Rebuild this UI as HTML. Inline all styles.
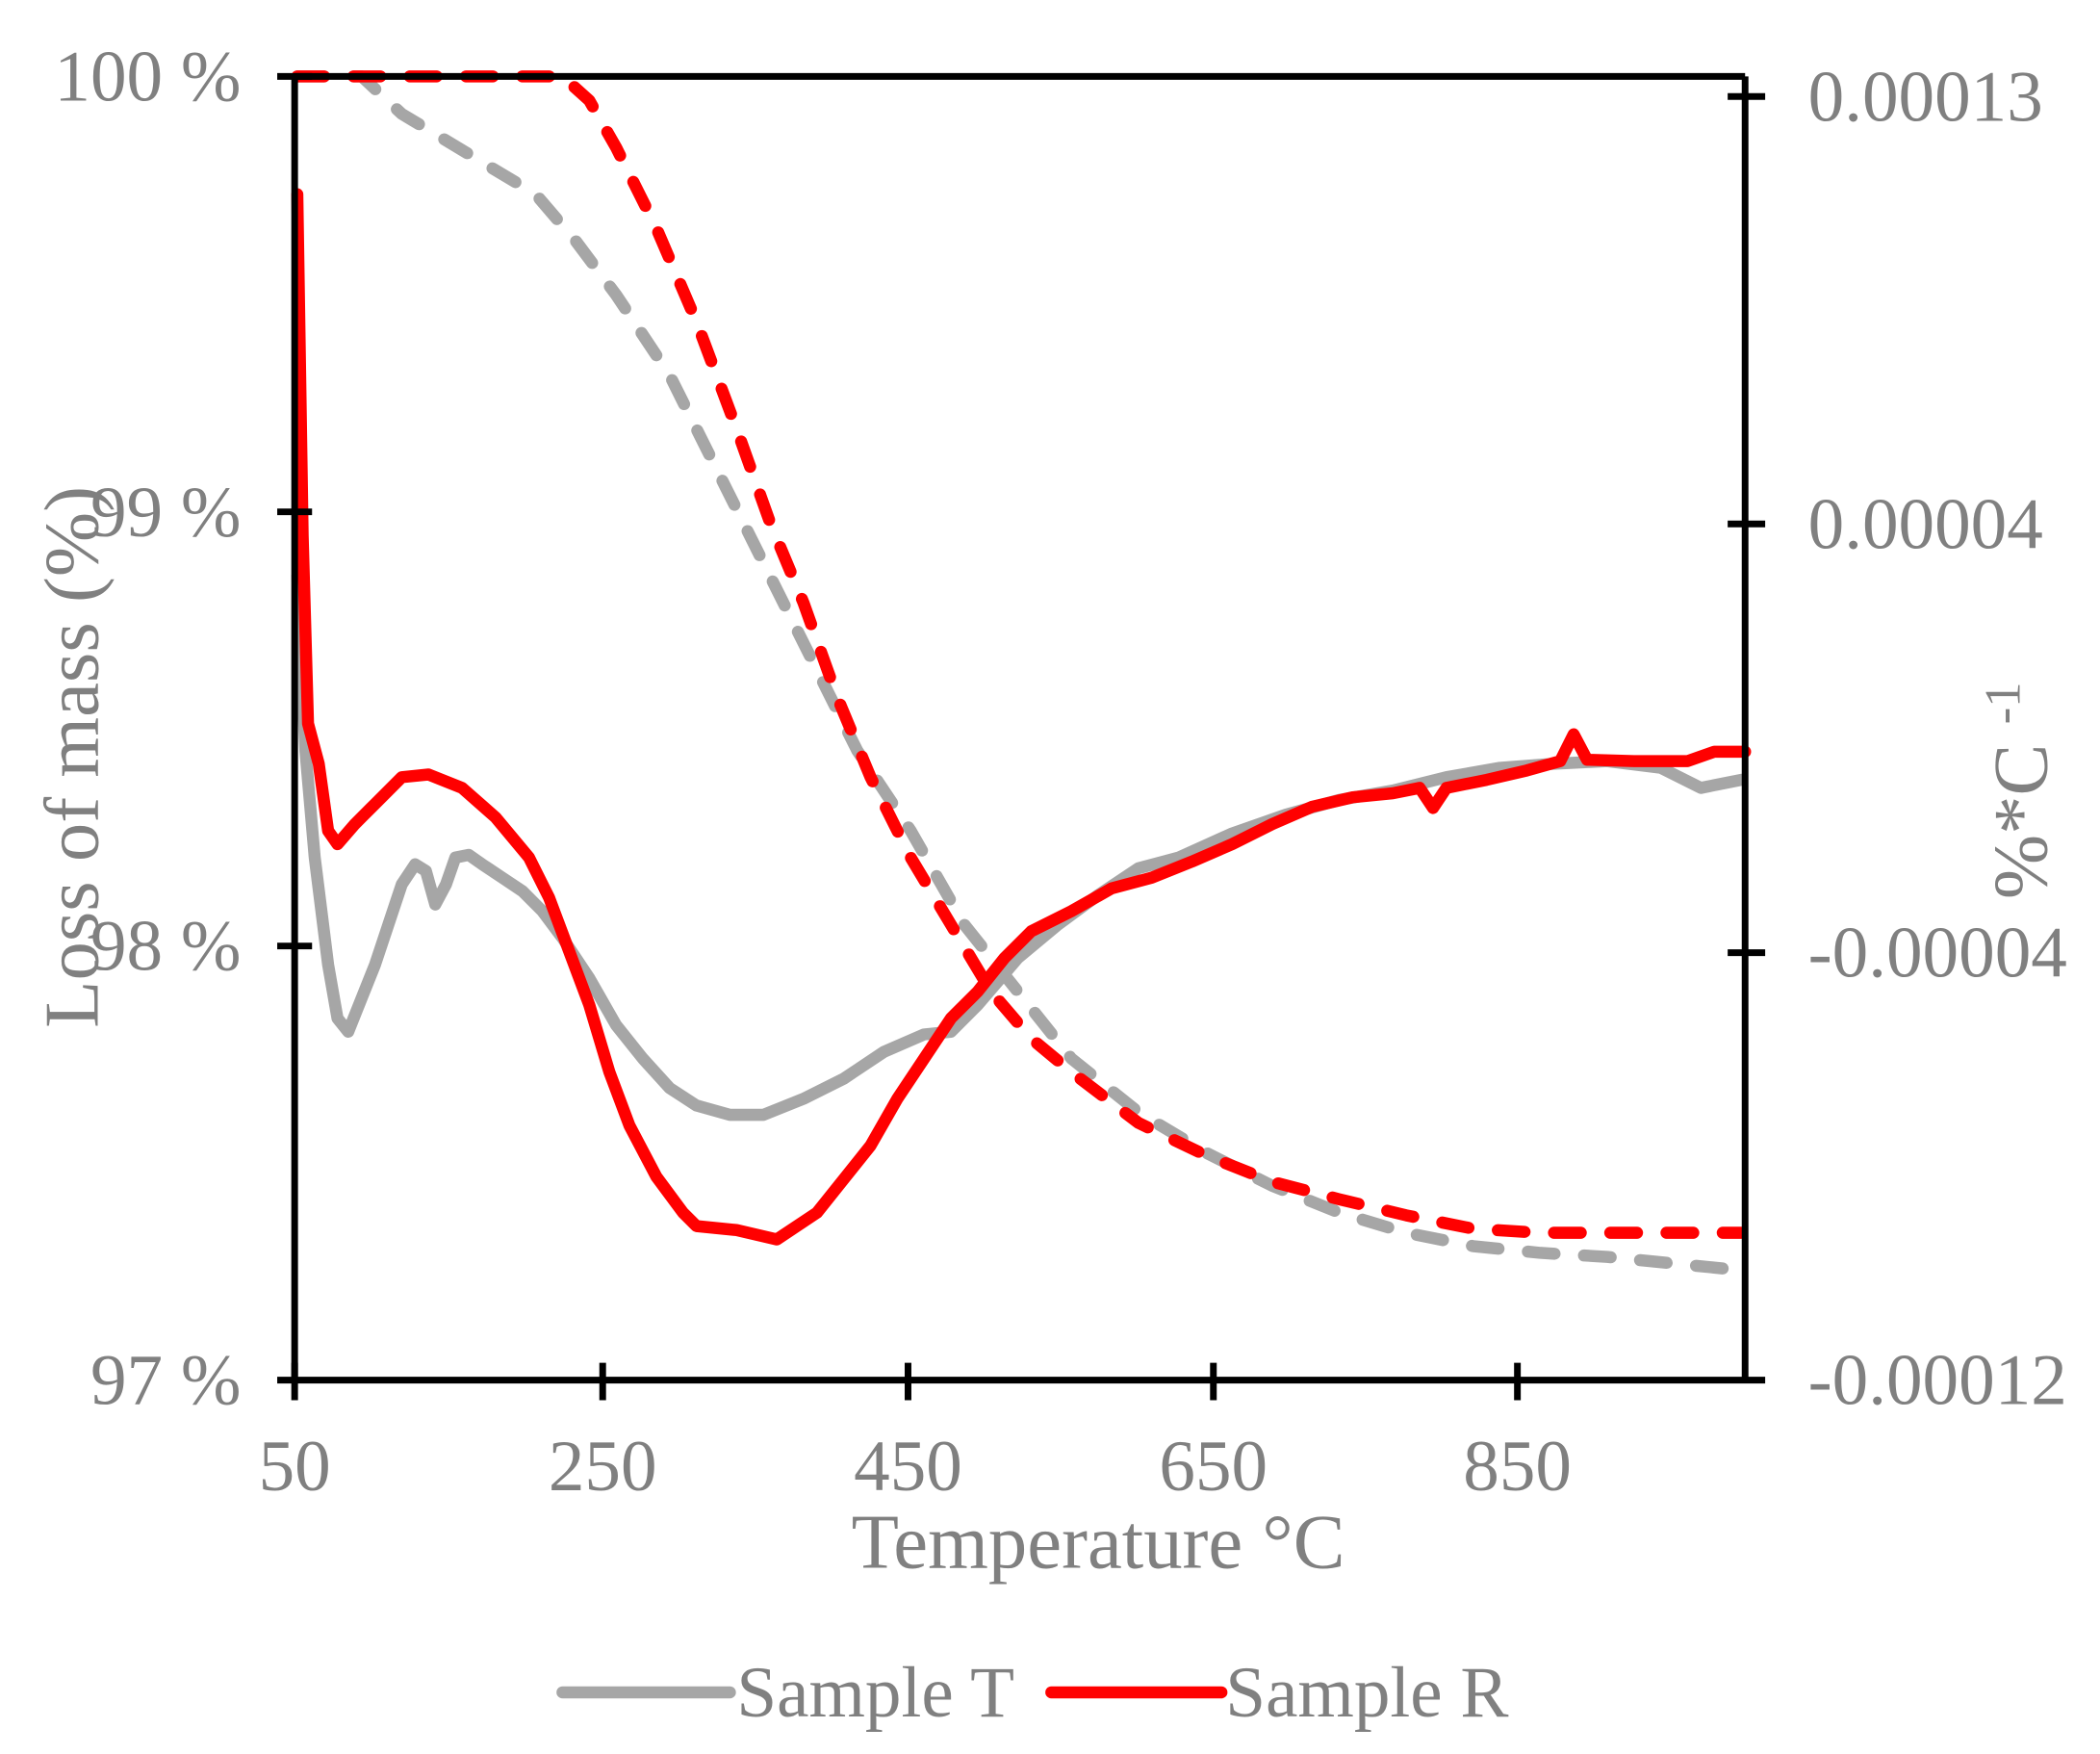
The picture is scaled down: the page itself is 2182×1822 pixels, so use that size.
<!DOCTYPE html>
<html><head><meta charset="utf-8"><style>html,body{margin:0;padding:0;background:#fff}svg{display:block}</style></head>
<body>
<svg width="2182" height="1822" viewBox="0 0 1568 1309" preserveAspectRatio="none" xmlns="http://www.w3.org/2000/svg" font-family="Liberation Serif, serif" fill="#808080">
<g fill="none" stroke-linecap="round" stroke-linejoin="round" stroke-width="9">
<polyline stroke="#a6a6a6" stroke-dasharray="20,22" points="222,57 270,57 300,85 350,115 400,145 430,180 460,220 500,280 540,360 580,440 610,500 640,560 680,620 720,690 760,740 800,790 850,830 900,860 950,885 1000,905 1050,920 1100,930 1150,935 1200,938 1290,947"/>
<polyline stroke="#ff0000" stroke-dasharray="20,22" points="222,57 420,57 440,75 460,110 490,170 520,240 550,320 575,390 600,450 625,520 650,580 680,640 710,690 740,740 770,775 800,800 850,838 900,862 950,882 1000,895 1050,907 1100,917 1150,920 1200,920 1300,920"/>
<polyline stroke="#a6a6a6" points="222,430 228,560 235,640 245,720 252,760 260,770 268,750 280,720 290,690 300,660 310,645 318,650 325,675 333,660 340,640 350,638 360,645 375,655 390,665 405,680 420,700 440,730 460,765 480,790 500,812 520,825 545,832 570,832 600,820 630,805 660,785 690,772 710,770 730,750 760,715 790,690 820,668 850,648 880,640 920,622 960,608 1000,597 1040,590 1080,580 1120,573 1160,570 1200,568 1240,573 1270,588 1300,582"/>
<polyline stroke="#ff0000" points="222,145 226,400 230,540 238,570 245,620 252,630 265,615 280,600 300,580 320,578 345,588 370,610 395,640 410,670 425,710 440,750 455,800 470,840 490,878 510,905 520,915 550,918 580,925 610,905 630,880 650,855 670,820 690,790 710,760 730,740 750,715 770,695 800,680 830,663 860,655 890,643 920,630 950,615 980,602 1010,595 1040,592 1060,588 1070,603 1080,588 1110,582 1140,575 1165,568 1175,548 1185,567 1220,568 1260,568 1280,561 1303,561"/>
</g>
<g stroke="#000" stroke-width="5" fill="none">
<line x1="220" y1="57" x2="1303" y2="57"/>
<line x1="220" y1="57" x2="220" y2="1030"/>
<line x1="1303" y1="57" x2="1303" y2="1030"/>
<line x1="207" y1="1030" x2="1318" y2="1030"/>
<line x1="207" y1="57" x2="233" y2="57"/><line x1="207" y1="382" x2="233" y2="382"/><line x1="207" y1="706" x2="233" y2="706"/>
<line x1="1290" y1="72" x2="1318" y2="72"/><line x1="1290" y1="391" x2="1318" y2="391"/><line x1="1290" y1="711" x2="1318" y2="711"/>
<line x1="220" y1="1017" x2="220" y2="1045"/><line x1="450" y1="1017" x2="450" y2="1045"/><line x1="678" y1="1017" x2="678" y2="1045"/><line x1="906" y1="1017" x2="906" y2="1045"/><line x1="1133" y1="1017" x2="1133" y2="1045"/>
</g>
<g font-size="54" text-anchor="end">
<text x="180" y="75">100 %</text><text x="180" y="400">99 %</text><text x="180" y="724">98 %</text><text x="180" y="1048">97 %</text>
</g>
<g font-size="54" text-anchor="start">
<text x="1350" y="90">0.00013</text><text x="1350" y="409">0.00004</text><text x="1350" y="729">-0.00004</text><text x="1350" y="1048">-0.00012</text>
</g>
<g font-size="54" text-anchor="middle">
<text x="220" y="1112">50</text><text x="450" y="1112">250</text><text x="678" y="1112">450</text><text x="906" y="1112">650</text><text x="1133" y="1112">850</text>
<text x="820" y="1170" font-size="58">Temperature °C</text>
<text transform="translate(73,565) rotate(-90)" font-size="58">Loss of mass (%)</text>
<text transform="translate(1528,590) rotate(-90)" font-size="58">%*C <tspan font-size="38" dy="-20">-1</tspan></text>
</g>
<line x1="420" y1="1263" x2="545" y2="1263" stroke="#a6a6a6" stroke-width="9" stroke-linecap="round"/>
<text x="550" y="1281" font-size="54">Sample T</text>
<line x1="785" y1="1263" x2="912" y2="1263" stroke="#ff0000" stroke-width="9" stroke-linecap="round"/>
<text x="915" y="1281" font-size="54">Sample R</text>
</svg>
</body></html>
